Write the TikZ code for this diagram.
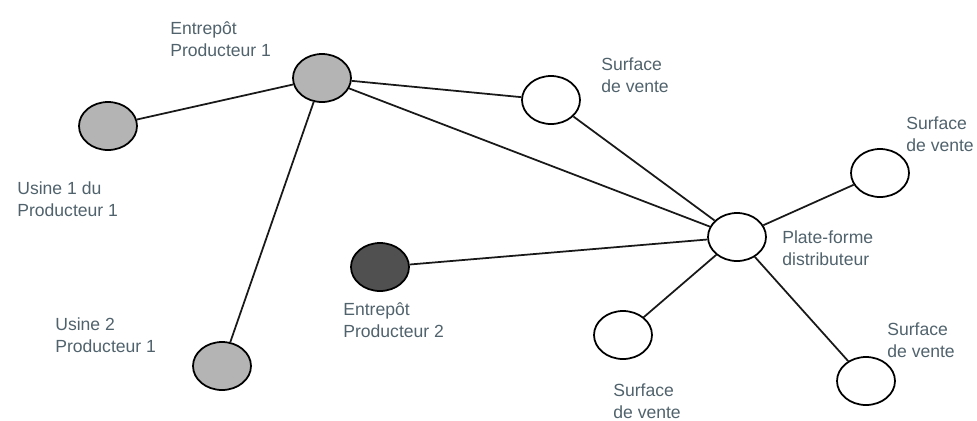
\documentclass[tikz,border=0pt]{standalone}
\usepackage{fontspec}
\setmainfont{Liberation Sans}
\usetikzlibrary{shapes.geometric, positioning}
\definecolor{sitegrey}{RGB}{180,180,180}
\definecolor{sitedark}{RGB}{80,80,80}
\definecolor{labelgrey}{RGB}{80,98,108}
\tikzset{
  site/.style={ellipse, draw=black, line width=1pt, minimum width=1.16cm, minimum height=0.96cm, inner sep=0pt},
  link/.style={line width=1pt, black!90}
}

\begin{document}
\begin{tikzpicture}[x=0.02cm, y=-0.02cm]
  \tikzset{lbl/.style={anchor=north west, inner sep=0pt, align=left, text=labelgrey, font=\fontsize{10pt}{13pt}\selectfont}};
  \useasboundingbox (0,0) rectangle (977,420);

  % sites
  \node[site, fill=sitegrey] (usineA) at (108,126) {};
  \node[site, fill=sitegrey] (entrepotA) at (322,78) {};
  \node[site, fill=sitegrey] (usineB) at (222,366) {};
  \node[site, fill=sitedark] (entrepotB) at (380,267) {};
  \node[site, fill=white] (plateforme) at (737,237) {};
  \node[site, fill=white] (venteA) at (551,100) {};
  \node[site, fill=white] (venteB) at (880,173) {};
  \node[site, fill=white] (venteC) at (623,335) {};
  \node[site, fill=white] (venteD) at (866,381) {};

  % links
  \draw[link] (usineA) -- (entrepotA);
  \draw[link] (entrepotA) -- (usineB);
  \draw[link] (entrepotA) -- (venteA);
  \draw[link] (entrepotA) -- (plateforme);
  \draw[link] (venteA) -- (plateforme);
  \draw[link] (entrepotB) -- (plateforme);
  \draw[link] (plateforme) -- (venteB);
  \draw[link] (plateforme) -- (venteC);
  \draw[link] (plateforme) -- (venteD);

  % labels
  \node[lbl] (lentrepotA) at (170,21) {Entrepôt\\Producteur 1};
  \node[lbl] (lusineA) at (17,181) {Usine 1 du\\Producteur 1};
  \node[lbl] (lusineB) at (55,317) {Usine 2\\Producteur 1};
  \node[lbl] (lentrepotB) at (343,302) {Entrepôt\\Producteur 2};
  \node[lbl] (lplateforme) at (782,230) {Plate-forme\\distributeur};
  \node[lbl] (lventeA) at (601,57) {Surface\\de vente};
  \node[lbl] (lventeB) at (906,116) {Surface\\de vente};
  \node[lbl] (lventeC) at (613,383) {Surface\\de vente};
  \node[lbl] (lventeD) at (887,322) {Surface\\de vente};

\end{tikzpicture}
\end{document}
